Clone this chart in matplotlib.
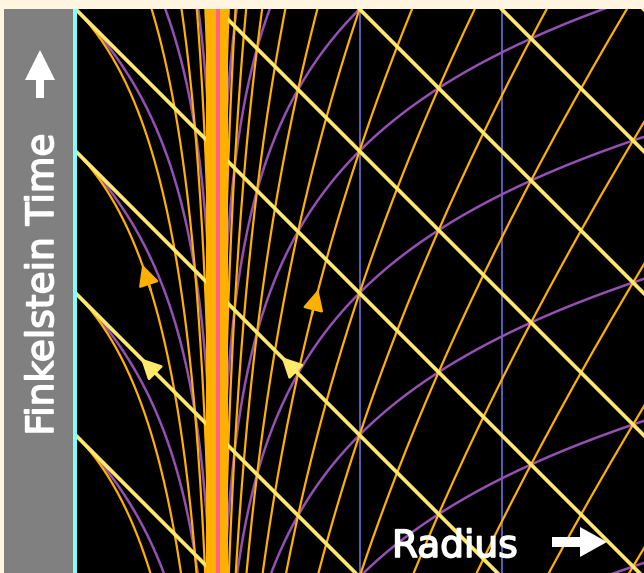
import numpy as np
import matplotlib.pyplot as plt
import matplotlib.patheffects as pe
from matplotlib.patches import Rectangle, Polygon

# Finkelstein diagram of a Schwarzschild black hole, radius in units of r_s (horizon at r = 1)
ingoing_c = [0, 1, 2, 3, 4, 5, 6, 7, 8]        # yellow: t_F + r = c
outgoing_c = list(range(-6, 31))               # orange: t_F - r - 2 ln|r - 1| = c
schw_time = list(range(-3, 31))                # purple: Schwarzschild time t = t_F - ln|r - 1|
const_r = [2, 3]                               # blue: lines of constant radius
horizon_r = 1.0

# arrows marking the direction of light rays: (family, constant, radius of tip, radius of tail)
arrow_marks = [("out", 3, 0.47, 0.53), ("out", 1, 1.71, 1.665),
               ("in", 2, 0.46, 0.54), ("in", 3, 1.45, 1.53)]

BG = "#fff5e1"
YELLOW = "#ffe86a"
ORANGE = "#ffb000"
PURPLE = "#9450b4"
PINK = "#ff6482"
CYAN = "#80ffff"
BLUE = "#6464c8"

W, H = 644, 573
x0, top, scale = 75.5, 9, 142.0   # pixel of r = 0, top of plot, pixels per r_s

fig = plt.figure(figsize=(W / 100, H / 100), dpi=100, facecolor=BG)
ax = fig.add_axes([x0 / W, 0, 1 - x0 / W, (H - top) / H])
ax.set_facecolor("black")
ax.set_xlim(0, (W - x0) / scale)
ax.set_ylim(4 - (H - top) / scale, 4)
ax.set_xticks([])
ax.set_yticks([])
for s in ax.spines.values():
    s.set_visible(False)

r_out = 1 + np.logspace(-9, np.log10(3.2), 900)
r_in = 1 - np.logspace(-9, 0, 900)


def t_outgoing(c, r):
    return r + 2 * np.log(np.abs(r - 1)) + c


for r in const_r:
    ax.axvline(r, color=BLUE, lw=1.3, zorder=1)

for T in schw_time:
    ax.plot(r_out, T + np.log(r_out - 1), color=PURPLE, lw=1.8, zorder=2)
    if T >= 1:
        ax.plot(r_in, T + np.log(1 - r_in), color=PURPLE, lw=1.8, zorder=2)

for c in outgoing_c:
    ax.plot(r_out, t_outgoing(c, r_out), color=ORANGE, lw=1.6, zorder=3)
    if c >= 1:
        ax.plot(r_in, t_outgoing(c, r_in), color=ORANGE, lw=1.6, zorder=3)

rr = np.array([0, 4.2])
for c in ingoing_c:
    ax.plot(rr, c - rr, color=YELLOW, lw=2.7, zorder=4)

# the pile-up of outgoing rays at the horizon
ax.axvspan(0.92, 1.075, color=ORANGE, lw=0, zorder=5)
ax.axvline(horizon_r, color=PINK, lw=2.9, zorder=6)

for fam, c, r_tip, r_tail in arrow_marks:
    if fam == "out":
        tip = (r_tip, t_outgoing(c, r_tip))
        tail = (r_tail, t_outgoing(c, r_tail))
        col = ORANGE
    else:
        tip = (r_tip, c - r_tip)
        tail = (r_tail, c - r_tail)
        col = YELLOW
    ax.annotate("", xy=tip, xytext=tail, zorder=7,
                arrowprops=dict(arrowstyle="-|>,head_length=0.7,head_width=0.35",
                                color=col, lw=1.8, mutation_scale=18,
                                shrinkA=0, shrinkB=0))

# left panel, singularity and labels (pixel coordinates)
def fx(px):
    return px / W


def fy(py):
    return 1 - py / H


fig.add_artist(Rectangle((fx(4), 0), fx(69), (H - top) / H, transform=fig.transFigure,
                         color="#808080", lw=0, zorder=-1))
fig.add_artist(Rectangle((fx(73), 0), fx(4), (H - top) / H, transform=fig.transFigure,
                         color=CYAN, lw=0, zorder=10))

up = [(40, 50), (55, 80), (44, 80), (44, 98), (36, 98), (36, 80), (25, 80)]
fig.add_artist(Polygon([(fx(a), fy(b)) for a, b in up], closed=True,
                       transform=fig.transFigure, color="white", lw=0, zorder=11))
right = [(607, 542), (580, 527), (580, 537), (552, 537), (552, 547), (580, 547), (580, 557)]
fig.add_artist(Polygon([(fx(a), fy(b)) for a, b in right], closed=True,
                       transform=fig.transFigure, color="white", lw=0, zorder=11))

thick = [pe.withStroke(linewidth=1.2, foreground="white")]
fig.text(fx(43), fy(285), "Finkelstein Time", rotation=90, ha="center", va="center",
         color="white", fontsize=27, family="DejaVu Sans", zorder=11, path_effects=thick)
fig.text(fx(392), fy(557), "Radius", ha="left", va="baseline",
         color="white", fontsize=27, family="DejaVu Sans", zorder=11, path_effects=thick)

fig.savefig("out.png", dpi=100, facecolor=BG)
